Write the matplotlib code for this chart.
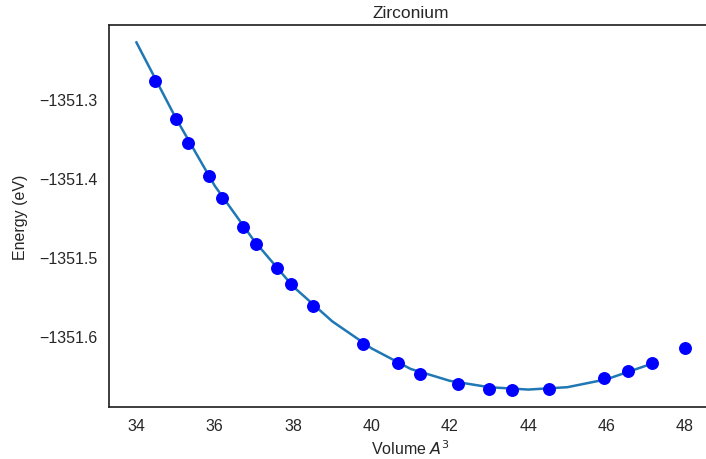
import matplotlib
matplotlib.use("Agg")
import matplotlib.pyplot as plt

# measured volumes / energies
volume = [34.48, 35.02, 35.32, 35.85, 36.18, 36.72, 37.05, 37.58, 37.94, 38.50,
          39.77, 40.68, 41.24, 42.21, 42.99, 43.58, 44.54, 45.94, 46.55, 47.16, 48.0]
energy = [-1351.278, -1351.326, -1351.356, -1351.398, -1351.425, -1351.462,
          -1351.483, -1351.514, -1351.534, -1351.561, -1351.609, -1351.634,
          -1351.647, -1351.660, -1351.666, -1351.668, -1351.666, -1351.653,
          -1351.644, -1351.633, -1351.615]

# fitted curve, sampled on a coarse grid
fit_v = [34, 35, 36, 37, 38, 39, 40, 41, 42, 43, 44, 45, 46, 47]
fit_e = [-1351.229, -1351.324, -1351.410, -1351.479, -1351.537, -1351.581,
         -1351.615, -1351.641, -1351.656, -1351.664, -1351.667, -1351.664,
         -1351.654, -1351.637]

TEXT = "#262626"
plt.rcParams["font.family"] = ["Liberation Sans", "DejaVu Sans"]

fig = plt.figure(figsize=(7.06, 4.60), dpi=100)
ax = fig.add_axes([109 / 706, 52 / 460, 603.4 / 706, 382 / 460])

ax.plot(fit_v, fit_e, color="#1f77b4", linewidth=1.8, zorder=2)
ax.plot(volume, energy, "o", color="blue", markersize=8.3, zorder=3)

ax.set_xlim(33.3, 48.7)
ax.set_ylim(-1351.689, -1351.207)
ax.set_xticks([34, 36, 38, 40, 42, 44, 46, 48])
ax.set_yticks([-1351.3, -1351.4, -1351.5, -1351.6])
ax.ticklabel_format(axis="y", useOffset=False)

ax.set_title("Zirconium", fontsize=12.5, color=TEXT)
ax.set_xlabel("Volume $A^3$", fontsize=11.5, color=TEXT)
ax.set_ylabel("Energy (eV)", fontsize=11.5, color=TEXT, labelpad=8)
ax.tick_params(length=0, labelsize=11.5, labelcolor=TEXT, pad=8)
for s in ax.spines.values():
    s.set_color(TEXT)
    s.set_linewidth(1.25)

fig.savefig("out.png", dpi=100)
